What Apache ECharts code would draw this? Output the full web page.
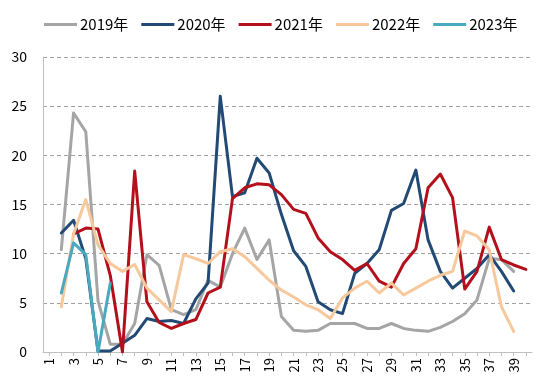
<!DOCTYPE html>
<html>
<head>
<meta charset="utf-8">
<script src="https://cdn.jsdelivr.net/npm/echarts@6/dist/echarts.min.js"></script>
<style>
html,body{margin:0;padding:0;background:#fff;}
#c{width:550px;height:391px;}
</style>
</head>
<body>
<div id="c"></div>
<script>
var categories = [];
for (var i = 1; i <= 40; i++) categories.push(String(i));

var seriesNames = ['2019年', '2020年', '2021年', '2022年', '2023年'];

var y2019 = [null, 10.4, 24.3, 22.4, 5.2, 0.8, 0.8, 2.9, 9.9, 8.8,
  4.3, 3.8, 4.3, 7.3, 6.6, 10.0, 12.6, 9.4, 11.4, 3.6,
  2.2, 2.1, 2.2, 2.9, 2.9, 2.9, 2.4, 2.4, 2.9, 2.4,
  2.2, 2.1, 2.5, 3.1, 3.9, 5.3, 9.5, 9.4, 8.2, null];

var y2020 = [null, 12.1, 13.4, 9.5, 0.1, 0.1, 0.9, 1.7, 3.4, 3.1,
  3.2, 2.9, 5.4, 7.0, 26.0, 15.8, 16.2, 19.7, 18.2, 14.0,
  10.3, 8.7, 5.1, 4.3, 3.9, 8.0, 9.0, 10.4, 14.4, 15.1,
  18.5, 11.4, 8.2, 6.5, 7.5, 8.5, 9.9, 8.2, 6.2, null];

var y2021 = [null, null, 12.0, 12.6, 12.5, 7.8, 0, 18.4, 5.1, 3.0,
  2.4, 2.9, 3.3, 6.0, 6.6, 15.6, 16.7, 17.1, 17.0, 16.0,
  14.5, 14.1, 11.6, 10.2, 9.4, 8.3, 9.0, 7.2, 6.6, 9.0,
  10.5, 16.7, 18.1, 15.7, 6.4, 8.2, 12.7, 9.4, 8.85, 8.4];

var y2022 = [null, 4.6, 12.0, 15.5, 10.9, 9.0, 8.2, 8.9, 6.5, 5.3,
  4.1, 9.9, 9.5, 9.0, 10.2, 10.5, 9.7, 8.5, 7.3, 6.3,
  5.6, 4.8, 4.3, 3.4, 5.5, 6.5, 7.2, 6.0, 7.0, 5.8,
  6.5, 7.2, 7.8, 8.2, 12.3, 11.8, 10.4, 4.6, 2.1, null];

var y2023 = [null, 6.0, 11.1, 9.9, 0, 7.0];

var yTicks = [0, 5, 10, 15, 20, 25, 30];

var colors = ['#a5a5a5', '#224a75', '#b3101c', '#f6c89c', '#4aa8bf'];
var allData = [y2019, y2020, y2021, y2022, y2023];

var chart = echarts.init(document.getElementById('c'), null, {renderer: 'canvas'});
var font = '"Noto Sans CJK SC", "Noto Sans", sans-serif';

chart.setOption({
  backgroundColor: '#ffffff',
  animation: false,
  color: colors,
  legend: {
    left: 39,
    top: 12,
    itemWidth: 33,
    itemHeight: 3,
    itemGap: 13,
    icon: 'rect',
    textStyle: {fontSize: 15, color: '#000', fontFamily: font, padding: [0, 0, 0, -2]},
    data: seriesNames
  },
  grid: {left: 43, right: 18, top: 57, bottom: 39, containLabel: false},
  xAxis: {
    type: 'category',
    data: categories,
    boundaryGap: true,
    axisLine: {lineStyle: {color: '#bfbfbf', width: 1}},
    axisTick: {show: true, alignWithLabel: true, interval: 0, length: 4, lineStyle: {color: '#bfbfbf'}},
    axisLabel: {interval: 1, rotate: 90, fontSize: 13, color: '#000', fontFamily: font, margin: 6}
  },
  yAxis: {
    type: 'value',
    min: yTicks[0],
    max: yTicks[yTicks.length - 1],
    interval: 5,
    axisLine: {show: true, lineStyle: {color: '#bfbfbf', width: 1}},
    axisTick: {show: false},
    axisLabel: {fontSize: 14, color: '#000', fontFamily: font, margin: 16},
    splitLine: {show: true, lineStyle: {color: '#a0a0a0', type: [4, 3], width: 1}}
  },
  series: seriesNames.map(function (n, i) {
    return {
      name: n,
      type: 'line',
      data: allData[i],
      showSymbol: false,
      symbol: 'none',
      connectNulls: false,
      lineStyle: {width: 3, color: colors[i], join: 'round', cap: 'round'},
      itemStyle: {color: colors[i]},
      z: 2 + i
    };
  })
});
</script>
</body>
</html>
